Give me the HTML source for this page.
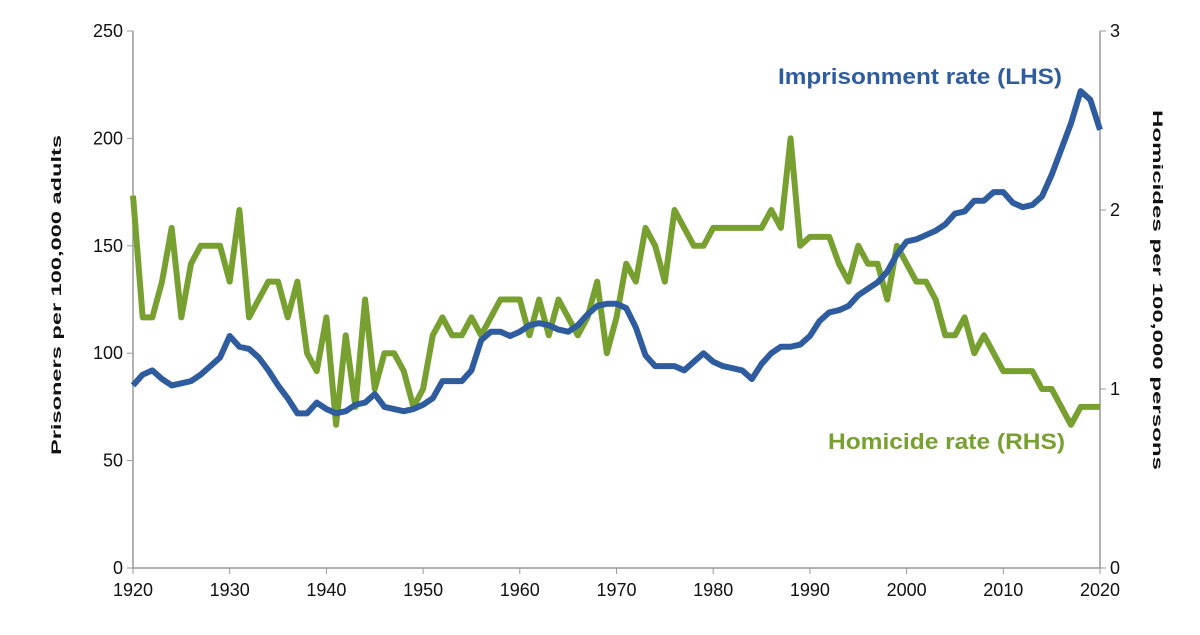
<!DOCTYPE html>
<html><head><meta charset="utf-8"><style>
body{margin:0;background:#fff;}
svg text{font-family:"Liberation Sans",Arial,sans-serif;}
</style></head><body>
<svg id="chart" width="1200" height="630" viewBox="0 0 1200 630" xmlns="http://www.w3.org/2000/svg">
<g id="axes"></g>
<g id="series"></g>
<text transform="translate(61,295) rotate(-90)" text-anchor="middle" font-size="14" font-weight="bold" fill="#111" textLength="320" lengthAdjust="spacingAndGlyphs">Prisoners per 100,000 adults</text>
<text transform="translate(1153,290) rotate(90)" text-anchor="middle" font-size="14" font-weight="bold" fill="#111" textLength="360" lengthAdjust="spacingAndGlyphs">Homicides per 100,000 persons</text>
<text x="778" y="84" font-size="22" font-weight="bold" fill="#2e5c9e" textLength="284" lengthAdjust="spacingAndGlyphs">Imprisonment rate (LHS)</text>
<text x="828" y="449" font-size="22" font-weight="bold" fill="#77a030" textLength="237" lengthAdjust="spacingAndGlyphs">Homicide rate (RHS)</text>
</svg>
<script>
const years=[];for(let y=1920;y<=2020;y++)years.push(y);
const imprisonment=[85,90,92,88,85,86,87,90,94,98,108,103,102,98,92,85,79,72,72,77,74,72,73,76,77,81,75,74,73,74,76,79,87,87,87,92,106,110,110,108,110,113,114,113,111,110,113,118,122,123,123,121,112,99,94,94,94,92,96,100,96,94,93,92,88,95,100,103,103,104,108,115,119,120,122,127,130,133,138,146,152,153,155,157,160,165,166,171,171,175,175,170,168,169,173,183,195,207,222,218,204];
const homicide=[2.08,1.4,1.4,1.6,1.9,1.4,1.7,1.8,1.8,1.8,1.6,2.0,1.4,1.5,1.6,1.6,1.4,1.6,1.2,1.1,1.4,0.8,1.3,0.9,1.5,1.0,1.2,1.2,1.1,0.9,1.0,1.3,1.4,1.3,1.3,1.4,1.3,1.4,1.5,1.5,1.5,1.3,1.5,1.3,1.5,1.4,1.3,1.4,1.6,1.2,1.4,1.7,1.6,1.9,1.8,1.6,2.0,1.9,1.8,1.8,1.9,1.9,1.9,1.9,1.9,1.9,2.0,1.9,2.4,1.8,1.85,1.85,1.85,1.7,1.6,1.8,1.7,1.7,1.5,1.8,1.7,1.6,1.6,1.5,1.3,1.3,1.4,1.2,1.3,1.2,1.1,1.1,1.1,1.1,1.0,1.0,0.9,0.8,0.9,0.9,0.9];
const xTicks=[1920,1930,1940,1950,1960,1970,1980,1990,2000,2010,2020];
const leftTicks=[0,50,100,150,200,250];
const rightTicks=[0,1,2,3];
const X0=133,X1=1100,Y0=568,Y1=31;
const x=v=>X0+(v-1920)/100*(X1-X0);
const yL=v=>Y0-v/250*(Y0-Y1);
const yR=v=>Y0-v/3*(Y0-Y1);
const NS="http://www.w3.org/2000/svg";
const axes=document.getElementById('axes'),series=document.getElementById('series');
function mk(t,a,p){const e=document.createElementNS(NS,t);for(const k in a)e.setAttribute(k,a[k]);p.appendChild(e);return e;}
let e=mk('line',{x1:X0,y1:Y1,x2:X0,y2:Y0,stroke:'#999','stroke-width':1.5},axes);

e=mk('line',{x1:X1,y1:Y1,x2:X1,y2:Y0,stroke:'#999','stroke-width':1.5},axes);

e=mk('line',{x1:X0,y1:Y0,x2:X1,y2:Y0,stroke:'#999','stroke-width':1.5},axes);

leftTicks.forEach(v=>{mk('line',{x1:X0-6,y1:yL(v),x2:X0,y2:yL(v),stroke:'#999'},axes);
 const t=mk('text',{x:X0-10,y:yL(v)+6,'text-anchor':'end','font-size':18,fill:'#111'},axes);t.textContent=v;
 });
rightTicks.forEach(v=>{mk('line',{x1:X1,y1:yR(v),x2:X1+6,y2:yR(v),stroke:'#999'},axes);
 const t=mk('text',{x:X1+10,y:yR(v)+6,'font-size':18,fill:'#111'},axes);t.textContent=v;
 });
xTicks.forEach(v=>{mk('line',{x1:x(v),y1:Y0,x2:x(v),y2:Y0+6,stroke:'#999'},axes);
 const t=mk('text',{x:x(v),y:Y0+28,'text-anchor':'middle','font-size':18,fill:'#111'},axes);t.textContent=v;
 });
let p=mk('polyline',{points:homicide.map((v,i)=>x(years[i])+','+yR(v)).join(' '),fill:'none',stroke:'#77a030','stroke-width':6,'stroke-linejoin':'round'},series);

p=mk('polyline',{points:imprisonment.map((v,i)=>x(years[i])+','+yL(v)).join(' '),fill:'none',stroke:'#2e5c9e','stroke-width':6,'stroke-linejoin':'round'},series);

</script>
</body></html>
